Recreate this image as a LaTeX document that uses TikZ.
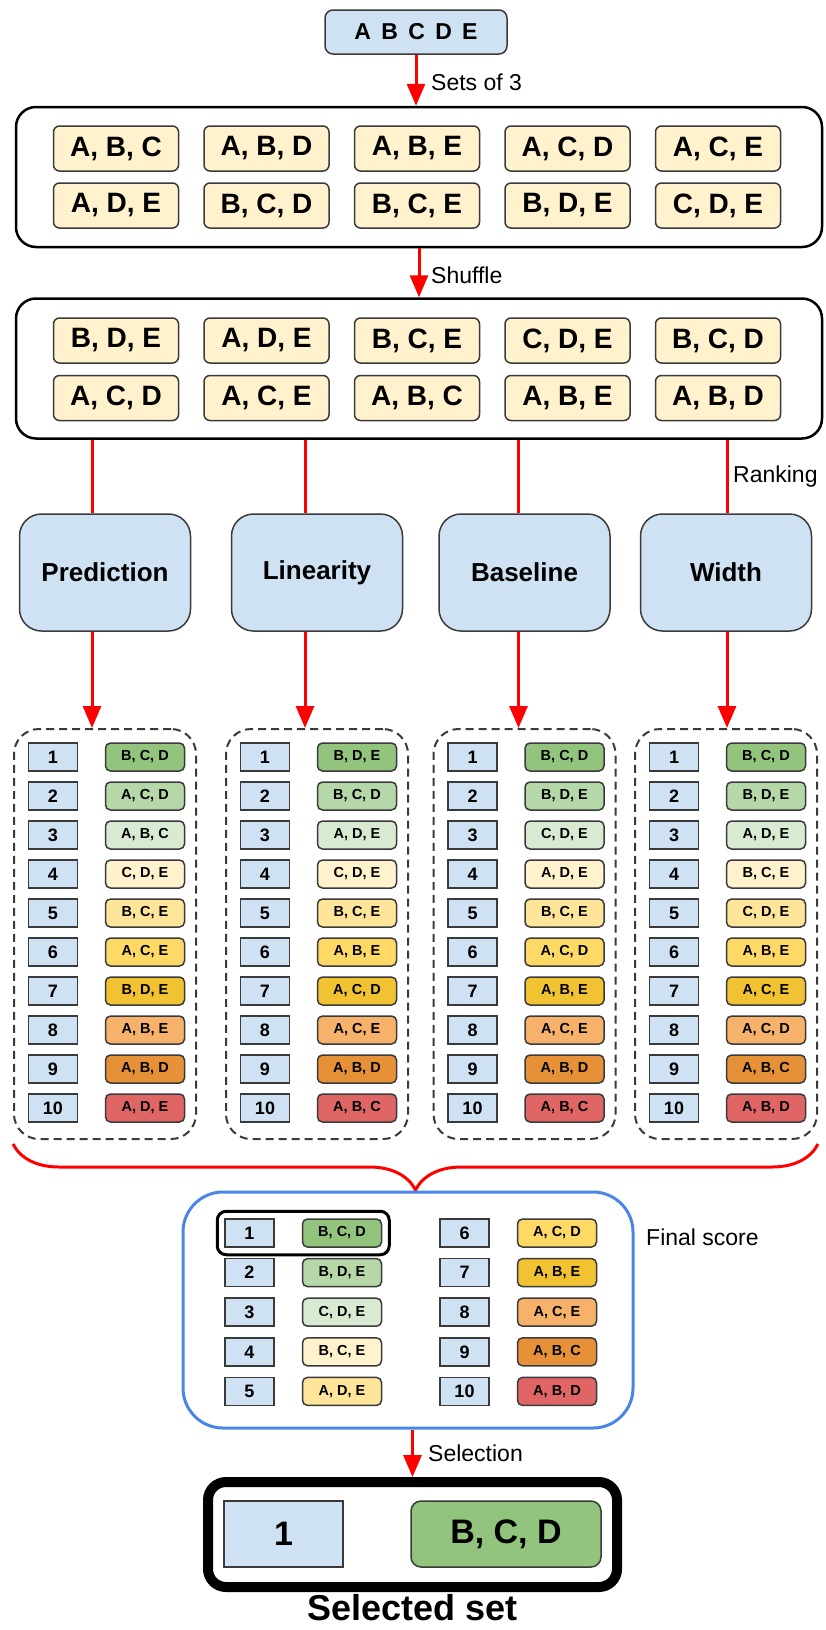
\documentclass[tikz,border=0pt]{standalone}
\usepackage{fontspec}
\setmainfont{Liberation Sans}
\usetikzlibrary{arrows.meta,decorations.pathreplacing,fit,positioning}
\definecolor{rankblue}{HTML}{CFE2F3}
\definecolor{setyellow}{HTML}{FFF2CC}
\definecolor{edgegray}{HTML}{3A3A3A}
\definecolor{finalblue}{HTML}{4A86E8}
\definecolor{rk1}{HTML}{93C47D}\definecolor{rk2}{HTML}{B6D7A8}\definecolor{rk3}{HTML}{D9EAD3}
\definecolor{rk4}{HTML}{FFF2CC}\definecolor{rk5}{HTML}{FFE599}\definecolor{rk6}{HTML}{FFD966}
\definecolor{rk7}{HTML}{F1C232}\definecolor{rk8}{HTML}{F6B26B}\definecolor{rk9}{HTML}{E69138}
\definecolor{rk10}{HTML}{E06666}
\tikzset{
	lbl/.style={anchor=west,inner sep=0pt,font=\fontsize{23}{26}\selectfont},
	topbox/.style={draw=edgegray,line width=1.5pt,fill=rankblue,rounded corners=8pt,minimum width=182pt,minimum height=44pt,inner sep=0pt,font=\bfseries\fontsize{23}{26}\selectfont},
	bigbox/.style={draw=black,line width=2.5pt,rounded corners=20pt,minimum width=806pt,minimum height=140pt},
	setbox/.style={draw=edgegray,line width=1.5pt,fill=setyellow,rounded corners=6pt,minimum width=125pt,minimum height=45pt,inner sep=0pt,font=\bfseries\fontsize{28}{30}\selectfont},
	method/.style={draw=edgegray,line width=1.5pt,fill=rankblue,rounded corners=22pt,minimum width=171pt,minimum height=117pt,inner sep=0pt,font=\bfseries\fontsize{26}{28}\selectfont},
	colbox/.style={draw=edgegray,line width=2pt,dash pattern=on 8pt off 5pt,rounded corners=25pt,minimum width=182pt,minimum height=410pt},
	rankbox/.style={draw=edgegray,line width=1.5pt,fill=rankblue,minimum width=49pt,minimum height=28pt,inner sep=0pt,font=\bfseries\fontsize{18}{20}\selectfont},
	rankset/.style={draw=edgegray,line width=1.5pt,rounded corners=5pt,minimum width=79pt,minimum height=28pt,inner sep=0pt,font=\bfseries\fontsize{14.5}{16}\selectfont},
	finalbox/.style={draw=finalblue,line width=3pt,rounded corners=40pt,minimum width=450pt,minimum height=236pt},
	redline/.style={draw=red,line width=3pt},
	redarrow/.style={redline,-{Triangle[length=22pt,width=18pt]}}
}
\begin{document}
\begin{tikzpicture}[x=1pt,y=-1pt]
	\useasboundingbox (0,0) rectangle (825,1630);
	\node[topbox] (abc) at (416,32) {A\hspace{0.45em}B\hspace{0.45em}C\hspace{0.45em}D\hspace{0.45em}E};
	\node[bigbox] (set1) at (419,177) {};
	\node[bigbox] (set2) at (419,368.5) {};
	\draw[redarrow] (abc.south) -- (abc.south |- set1.north);\node[lbl] (sets) at (431,82) {Sets of 3};
	\draw[redarrow] (set1.south) -- (set2.north);\node[lbl] (shuffle) at (431,275) {Shuffle};
	\foreach \s [count=\i] in {{A, B, C},{A, B, D},{A, B, E},{A, C, D},{A, C, E}} \node[setbox] (a\i) at ({-34.5+150.5*\i},148.5) {\s};
	\foreach \s [count=\i] in {{A, D, E},{B, C, D},{B, C, E},{B, D, E},{C, D, E}} \node[setbox] (b\i) at ({-34.5+150.5*\i},205.5) {\s};
	\foreach \s [count=\i] in {{B, D, E},{A, D, E},{B, C, E},{C, D, E},{B, C, D}} \node[setbox] (c\i) at ({-34.5+150.5*\i},340.5) {\s};
	\foreach \s [count=\i] in {{A, C, D},{A, C, E},{A, B, C},{A, B, E},{A, B, D}} \node[setbox] (d\i) at ({-34.5+150.5*\i},398) {\s};
	\node[method] (m1) at (105,572.5) {Prediction};
	\node[method] (m2) at (317,572.5) {Linearity};
	\node[method] (m3) at (524.5,572.5) {Baseline};
	\node[method] (m4) at (726,572.5) {Width};
	\node[colbox] (col1) at (105,934) {};\node[colbox] (col2) at (317,934) {};
	\node[colbox] (col3) at (524.5,934) {};\node[colbox] (col4) at (726,934) {};
	\foreach \i/\dx in {1/-13,2/-12,3/-6,4/1}{
		\path ([xshift=\dx pt]m\i.north) coordinate (mt\i) ([xshift=\dx pt]m\i.south) coordinate (mb\i);
		\draw[redline] (mt\i |- set2.south) -- (mt\i);
		\draw[redarrow] (mb\i) -- (mb\i |- col\i.north);}
	\node[lbl] (ranking) at (733,477) {Ranking};
	\foreach \s [count=\r] in {{B, C, D},{A, C, D},{A, B, C},{C, D, E},{B, C, E},{A, C, E},{B, D, E},{A, B, E},{A, B, D},{A, D, E}}
		{\node[rankbox] (pn\r) at (53,{718+39*\r}) {\r};\node[rankset,fill=rk\r] (ps\r) at (145,{718+39*\r}) {\s};}
	\foreach \s [count=\r] in {{B, D, E},{B, C, D},{A, D, E},{C, D, E},{B, C, E},{A, B, E},{A, C, D},{A, C, E},{A, B, D},{A, B, C}}
		{\node[rankbox] (ln\r) at (265,{718+39*\r}) {\r};\node[rankset,fill=rk\r] (ls\r) at (357,{718+39*\r}) {\s};}
	\foreach \s [count=\r] in {{B, C, D},{B, D, E},{C, D, E},{A, D, E},{B, C, E},{A, C, D},{A, B, E},{A, C, E},{A, B, D},{A, B, C}}
		{\node[rankbox] (bn\r) at (472.5,{718+39*\r}) {\r};\node[rankset,fill=rk\r] (bs\r) at (564.5,{718+39*\r}) {\s};}
	\foreach \s [count=\r] in {{B, C, D},{B, D, E},{A, D, E},{B, C, E},{C, D, E},{A, B, E},{A, C, E},{A, C, D},{A, B, C},{A, B, D}}
		{\node[rankbox] (wn\r) at (674,{718+39*\r}) {\r};\node[rankset,fill=rk\r] (ws\r) at (766,{718+39*\r}) {\s};}
	\draw[redline,line join=round,decorate,decoration={brace,amplitude=46pt}] ([yshift=-4pt]col4.south east) -- ([yshift=-4pt]col1.south west);
	\node[finalbox] (final) at (408,1310) {};
	\foreach \s [count=\r] in {{B, C, D},{B, D, E},{C, D, E},{B, C, E},{A, D, E}}
		{\node[rankbox] (fn\r) at (249.5,{1193.4+39.6*\r}) {\r};\node[rankset,fill=rk\r] (fs\r) at (342,{1193.4+39.6*\r}) {\s};}
	\foreach \s [count=\r from 6] in {{A, C, D},{A, B, E},{A, C, E},{A, B, C},{A, B, D}}
		{\node[rankbox] (fn\r) at (464.5,{995.4+39.6*\r}) {\r};\node[rankset,fill=rk\r] (fs\r) at (557,{995.4+39.6*\r}) {\s};}
	\node[draw,line width=3pt,rounded corners=9pt,inner sep=7pt,fit=(fn1)(fs1)] (best) {};
	\node[lbl] (score) at (646,1237) {Final score};
	\node[draw=black,line width=10pt,rounded corners=18pt,minimum width=409pt,minimum height=105pt] (sel) at (412.5,1534.5) {};
	\node[rankbox,minimum width=119pt,minimum height=66pt,font=\bfseries\fontsize{34}{36}\selectfont] (seln) at (283.5,1534) {1};
	\node[rankset,fill=rk1,minimum width=190pt,minimum height=66pt,rounded corners=10pt,font=\bfseries\fontsize{34}{36}\selectfont] (sels) at (506,1534) {B, C, D};
	\draw[redarrow] (final.south -| sel.north) -- (sel.north);\node[lbl] (selection) at (428,1453) {Selection};
	\node[below=2pt of sel,inner sep=0pt,font=\bfseries\fontsize{36}{38}\selectfont] (title) {Selected set};
\end{tikzpicture}
\end{document}
